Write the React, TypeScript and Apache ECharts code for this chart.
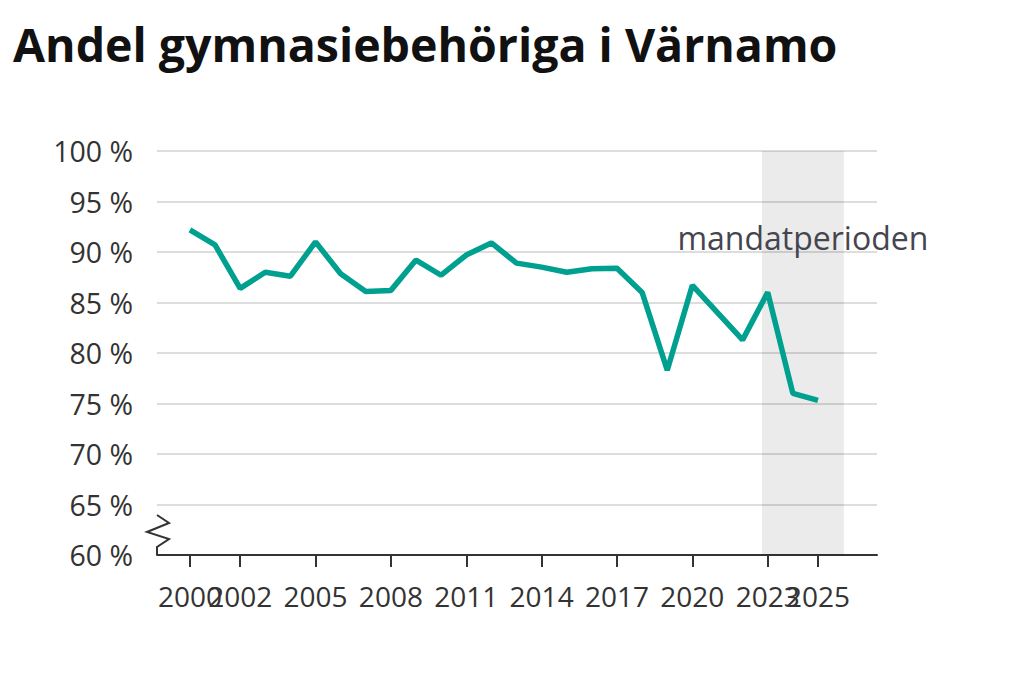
import React, { useEffect, useRef } from "react";
import * as echarts from "echarts";

const title = "Andel gymnasiebehöriga i Värnamo";
const years = [
  2000, 2001, 2002, 2003, 2004, 2005, 2006, 2007, 2008, 2009, 2010, 2011, 2012,
  2013, 2014, 2015, 2016, 2017, 2018, 2019, 2020, 2021, 2022, 2023, 2024, 2025,
];
const values = [
  92.2, 90.7, 86.4, 88.0, 87.6, 91.0, 87.85, 86.1, 86.2, 89.2, 87.7, 89.7, 90.9,
  88.9, 88.5, 88.0, 88.35, 88.4, 86.0, 78.3, 86.7, 84.0, 81.3, 86.0, 76.0, 75.3,
];
const xTickYears = [2000, 2002, 2005, 2008, 2011, 2014, 2017, 2020, 2023, 2025];
const xTickYearsCrowded = [2002, 2023];
const mandatePeriod = [2022.77, 2026.03];
const mandateLabel = "mandatperioden";
const xRange = [1998.69, 2027.35];
const yRange = [60, 100];

export default function App() {
  const ref = useRef<HTMLDivElement>(null);
  useEffect(() => {
    if (!ref.current) return;
    const chart = echarts.init(ref.current, undefined, { renderer: "svg" });
    const font = "'Open Sans', 'Noto Sans', sans-serif";
    const mainTicks = xTickYears.filter((y) => !xTickYearsCrowded.includes(y));
    const makeX = (ticks: number[], showLine: boolean) => ({
      type: "value",
      position: "bottom",
      offset: 0,
      min: xRange[0],
      max: xRange[1],
      axisLine: { show: showLine, lineStyle: { color: "#333333", width: 2 } },
      axisTick: {
        show: true,
        length: 12,
        customValues: ticks.slice(),
        lineStyle: { color: "#333333", width: 2 },
      },
      axisLabel: {
        customValues: ticks.slice(),
        showMinLabel: true,
        showMaxLabel: true,
        margin: 27,
        fontFamily: font,
        fontSize: 28,
        color: "#333333",
        hideOverlap: false,
        formatter: (v: number) => String(Math.round(v)),
      },
      splitLine: { show: false },
    });
    chart.setOption({
      animation: false,
      backgroundColor: "#ffffff",
      title: {
        text: title,
        left: 8,
        top: 15,
        textStyle: {
          fontFamily: font,
          fontSize: 46.5,
          fontWeight: "bold",
          color: "#111111",
        },
      },
      grid: { left: 157, right: 147, top: 151, bottom: 120 },
      xAxis: [makeX(mainTicks, true), makeX(xTickYearsCrowded, false)],
      yAxis: {
        type: "value",
        min: yRange[0],
        max: yRange[1],
        interval: 5,
        axisLine: { show: false },
        axisTick: { show: false },
        axisLabel: {
          margin: 24,
          padding: [6, 0, 0, 0],
          fontFamily: font,
          fontSize: 28.5,
          color: "#333333",
          formatter: "{value} %",
        },
        splitLine: { show: true, lineStyle: { color: "#dddddd", width: 2 } },
      },
      series: [
        {
          type: "line",
          xAxisIndex: 0,
          data: years.map((y, i) => [y, values[i]]),
          showSymbol: false,
          symbol: "none",
          lineStyle: { color: "#00a090", width: 5.5 },
          z: 5,
          markArea: {
            silent: true,
            itemStyle: { color: "rgba(0,0,0,0.08)" },
            label: {
              show: true,
              position: ["50%", 86],
              align: "center",
              verticalAlign: "middle",
              fontFamily: font,
              fontSize: 32,
              color: "#45454f",
              formatter: mandateLabel,
            },
            data: [
              [
                { xAxis: mandatePeriod[0], yAxis: yRange[1] },
                { xAxis: mandatePeriod[1], yAxis: yRange[0] },
              ],
            ],
          },
        },
      ],
      graphic: [
        {
          type: "polyline",
          shape: {
            points: [
              [157, 515],
              [169, 523],
              [147, 532],
              [169, 539],
              [157, 547],
              [157, 555],
            ],
          },
          style: { stroke: "#333333", lineWidth: 2, fill: null },
          z: 10,
        },
      ],
    });
    return () => chart.dispose();
  }, []);
  return (
    <div
      ref={ref}
      style={{ position: "absolute", left: 0, top: 0, width: 1024, height: 675 }}
    />
  );
}
